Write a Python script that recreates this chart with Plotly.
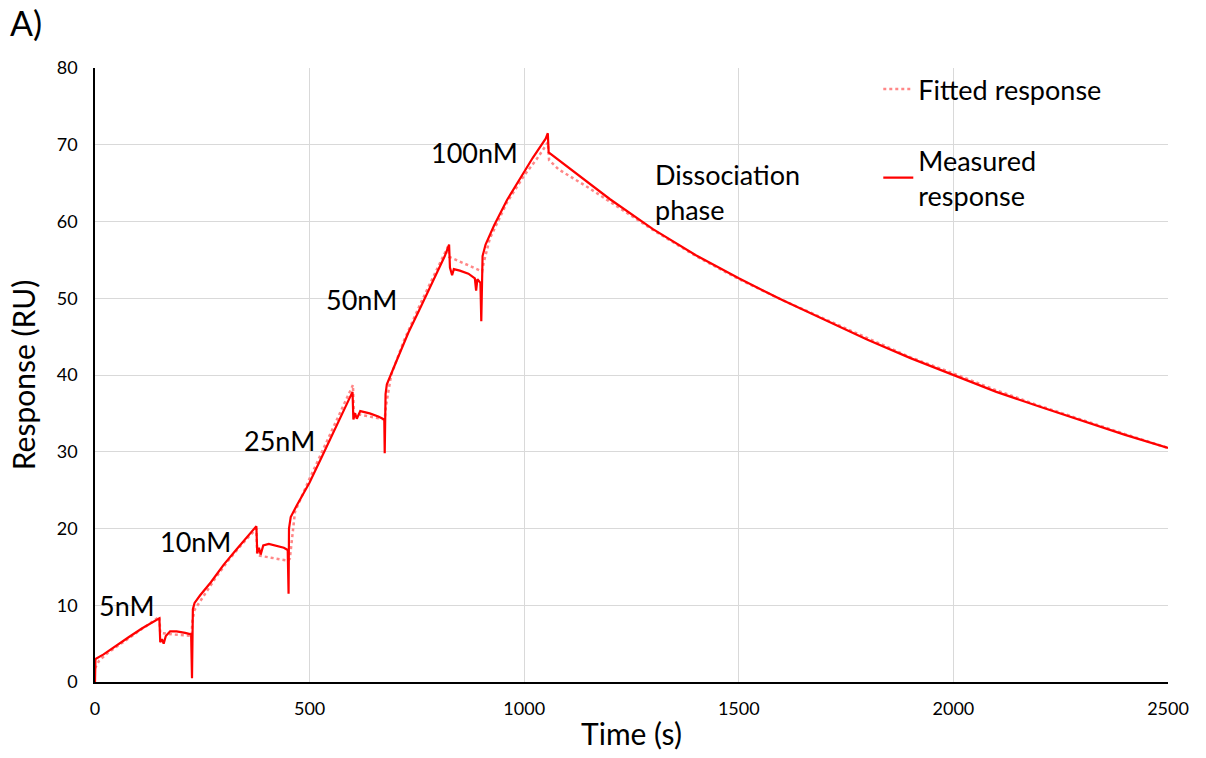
import plotly.graph_objects as go

# Measured response (time in s, response in RU)
meas_t = [0, 1, 20, 50, 80, 110, 140, 150, 152, 156, 160, 165, 175, 190, 210, 224,
          226, 228, 232, 245, 270, 300, 330, 360, 376, 378, 382, 386, 392, 405, 420,
          440, 449, 451, 452, 456, 470, 500, 530, 560, 590, 600, 602, 606, 610, 618,
          640, 660, 674, 675, 677, 680, 700, 730, 760, 790, 815, 825, 827, 832, 836,
          850, 870, 885, 888, 891, 898, 900, 903, 910, 920, 930, 960, 990, 1020, 1050,
          1055, 1057, 1100, 1150, 1200, 1300, 1400, 1500, 1600, 1700, 1800, 1900,
          2000, 2100, 2200, 2300, 2400, 2500]
meas_r = [0, 3.0, 3.6, 4.8, 5.9, 7.0, 7.9, 8.3, 5.2, 5.6, 5.0, 6.0, 6.6, 6.6, 6.4, 6.2,
          0.5, 9.5, 10.3, 11.3, 13.0, 15.3, 17.3, 19.2, 20.3, 16.8, 17.5, 16.6, 17.8, 18.0, 17.8,
          17.5, 17.2, 11.5, 20.0, 21.5, 23.0, 26.0, 29.5, 33.0, 36.5, 37.8, 34.2, 35.0, 34.3, 35.3,
          35.0, 34.6, 34.2, 29.8, 37.5, 38.8, 41.5, 45.5, 49.0, 52.5, 55.5, 57.0, 54.0, 53.0, 53.8,
          53.6, 53.2, 52.6, 51.0, 52.5, 52.0, 47.0, 55.5, 57.0, 58.3, 59.5, 62.8, 65.5, 68.3, 70.8,
          71.5, 69.0, 67.2, 65.0, 62.9, 59.0, 55.6, 52.6, 49.8, 47.2, 44.6, 42.2,
          40.0, 37.8, 35.9, 34.0, 32.2, 30.5]

# Fitted response
fit_t = [0, 10, 30, 60, 90, 120, 150, 152, 180, 225, 227, 232, 250, 280, 310, 340, 376,
         378, 410, 450, 454, 466, 500, 540, 570, 601, 603, 630, 675, 678, 690, 720, 760,
         790, 822, 825, 860, 902, 905, 920, 960, 1000, 1030, 1055, 1058, 1080, 1150,
         1200, 1300, 1400, 1500, 1600, 1700, 1800, 1900, 2000, 2100, 2200, 2300, 2400, 2500]
fit_r = [1.8, 2.8, 3.8, 5.0, 6.2, 7.3, 8.5, 6.4, 6.2, 6.0, 8.0, 9.4, 11.0, 13.5, 15.8, 17.8, 20.0,
         16.5, 16.2, 15.8, 16.1, 22.2, 26.5, 31.3, 34.8, 38.7, 35.0, 34.7, 34.2, 36.0, 40.0, 44.5, 49.5,
         53.0, 56.7, 55.4, 54.5, 53.5, 54.5, 57.8, 62.5, 66.0, 68.2, 70.3, 68.0, 66.8, 64.4,
         62.6, 58.9, 55.5, 52.5, 49.8, 47.3, 44.7, 42.3, 40.2, 38.0, 36.0, 34.1, 32.3, 30.5]

conc_labels = ["5nM", "10nM", "25nM", "50nM", "100nM"]
label_t = [75, 235, 430, 620, 885]
label_r = [10, 18.3, 31.5, 49.8, 69.0]

FONT = "Lato, 'Open Sans', sans-serif"

fig = go.Figure()
fig.add_trace(go.Scatter(x=fit_t, y=fit_r, mode="lines", name="Fitted response",
                         line=dict(color="rgb(255,135,135)", width=2.5, dash="dot"),
                         legendgroup="a"))
fig.add_trace(go.Scatter(x=meas_t, y=meas_r, mode="lines", name="Measured<br>response",
                         line=dict(color="#ff0000", width=2.2), legendgroup="b"))

for txt, tx, ty in zip(conc_labels, label_t, label_r):
    fig.add_annotation(x=tx, y=ty, text=txt, showarrow=False,
                       font=dict(size=27, color="black", family=FONT))
fig.add_annotation(x=1300, y=63.8, text="Dissociation<br>phase", showarrow=False,
                   xanchor="left", align="left",
                   font=dict(size=27, color="black", family=FONT))
fig.add_annotation(x=0, y=1, xref="paper", yref="paper", xshift=-87, yshift=68,
                   text="A)", showarrow=False, xanchor="left", yanchor="top",
                   font=dict(size=34, color="black", family=FONT))

fig.update_layout(
    width=1206, height=758,
    margin=dict(l=95, r=38, t=68, b=74),
    paper_bgcolor="white", plot_bgcolor="white",
    font=dict(family=FONT, color="black"),
    showlegend=True,
    legend=dict(x=0.73, y=1.005, xanchor="left", yanchor="top",
                font=dict(size=27, family=FONT, color="black"),
                bgcolor="rgba(0,0,0,0)", tracegroupgap=33, traceorder="grouped"),
    xaxis=dict(range=[0, 2500], tickvals=[0, 500, 1000, 1500, 2000, 2500],
               showgrid=True, gridcolor="#d9d9d9", gridwidth=1,
               showline=True, linecolor="black", linewidth=1.5,
               zeroline=False, ticks="outside", ticklen=10, tickcolor="rgba(0,0,0,0)",
               tickfont=dict(size=18, family=FONT),
               title=dict(text="Time (s)", font=dict(size=30, family=FONT), standoff=6)),
    yaxis=dict(range=[0, 80], tickvals=list(range(0, 81, 10)),
               showgrid=True, gridcolor="#d9d9d9", gridwidth=1,
               showline=True, linecolor="black", linewidth=1.5,
               zeroline=False, ticks="outside", ticklen=12, tickcolor="rgba(0,0,0,0)",
               tickfont=dict(size=18, family=FONT),
               title=dict(text="Response (RU)", font=dict(size=30, family=FONT), standoff=12)),
)

fig.write_html("out.html")
